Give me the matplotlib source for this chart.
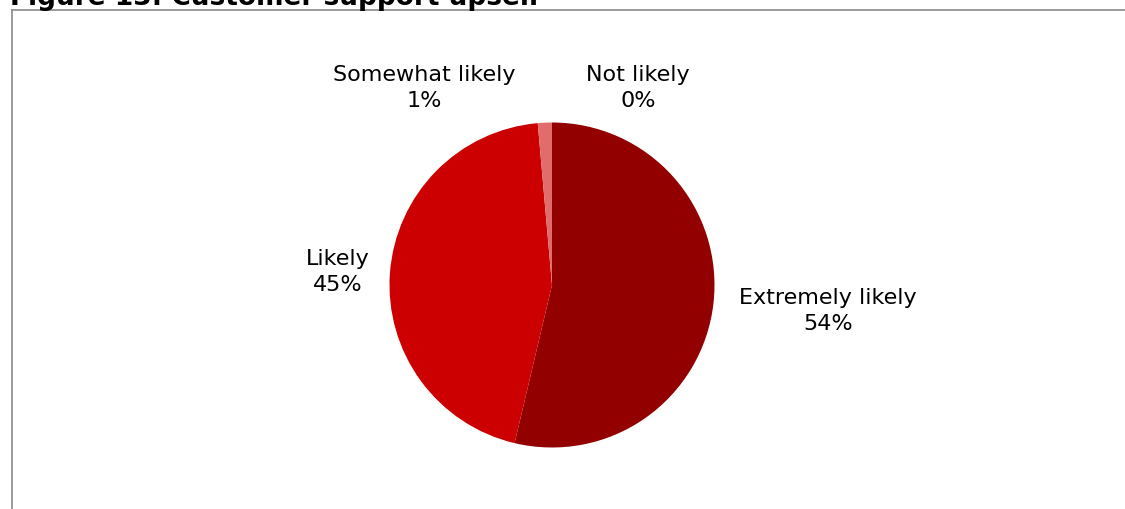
import matplotlib.pyplot as plt
from matplotlib.lines import Line2D

# Figure 13: Customer support upsell
categories = ["Extremely likely", "Likely", "Somewhat likely", "Not likely"]
shares = [53.7, 44.9, 1.4, 0.0]
pct_labels = ["54%", "45%", "1%", "0%"]
colors = ["#920000", "#CC0000", "#E06C6C", "#F2B3B3"]

# label placement (pixel offsets from pie centre, y up)
label_offsets = [(276, -25), (-214, 14), (-128, 198), (86, 198)]

W, H = 1125, 510
fig = plt.figure(figsize=(W / 100, H / 100), dpi=100)
ax = fig.add_axes([0, 0, 1, 1])

cx, cy, r = 552, H - 286, 162.5
wedges, _ = ax.pie(shares, colors=colors, startangle=90, counterclock=False,
                   center=(cx, cy), radius=r, frame=True,
                   wedgeprops=dict(linewidth=0))
ax.set_xlim(0, W)
ax.set_ylim(0, H)
ax.set_aspect("equal")
ax.axis("off")

for name, pct, (dx, dy) in zip(categories, pct_labels, label_offsets):
    ax.text(cx + dx, cy + dy, f"{name}\n{pct}", ha="center", va="center",
            fontsize=16, family="DejaVu Sans", linespacing=1.4, color="black")

# chart frame (only top and left edges visible)
fig.add_artist(Line2D([11.5 / W, 1], [1 - 10.5 / H, 1 - 10.5 / H],
                      transform=fig.transFigure, color="#8a8a8a", lw=1.2))
fig.add_artist(Line2D([11.5 / W, 11.5 / W], [0, 1 - 10.5 / H],
                      transform=fig.transFigure, color="#8a8a8a", lw=1.2))

fig.text(10 / W, 1 - 5 / H, "Figure 13: Customer support upsell",
         ha="left", va="baseline", fontsize=19, fontweight="bold",
         family="DejaVu Sans")

fig.savefig("out.png", dpi=100)
